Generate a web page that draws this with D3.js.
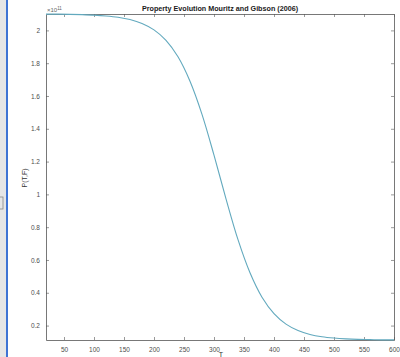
<!DOCTYPE html>
<html>
<head>
<meta charset="utf-8">
<script src="https://cdn.jsdelivr.net/npm/d3@7"></script>
<style>
  body { margin: 0; background: #fff; }
  .axis text { fill: #4d4d4d; font-family: 'Liberation Sans', Arial, sans-serif; font-size: 6.5px; }
  .axis line, .axis path { stroke: #555; }
</style>
</head>
<body>
<div id="chart"></div>
<script>
// T values and property (x 1e11)
const temps = [20, 40, 60, 80, 100, 120, 140, 160, 180, 200, 220, 240, 260, 280, 300, 320, 340, 360, 380, 400, 420, 440, 460, 480, 500, 520, 540, 560, 580, 600];
const props = [2.099, 2.099, 2.098, 2.096, 2.093, 2.088, 2.080, 2.066, 2.042, 2.003, 1.939, 1.839, 1.690, 1.488, 1.239, 0.973, 0.724, 0.522, 0.373, 0.273, 0.209, 0.170, 0.146, 0.132, 0.124, 0.119, 0.116, 0.1145, 0.113, 0.113];
const xTicks = [50, 100, 150, 200, 250, 300, 350, 400, 450, 500, 550, 600];
const yTicks = [0.2, 0.4, 0.6, 0.8, 1, 1.2, 1.4, 1.6, 1.8, 2];

const width = 400, height = 357;
const margin = { top: 14, right: 6, bottom: 17, left: 46 };
const w = width - margin.left - margin.right;
const h = height - margin.top - margin.bottom;

const svg = d3.select("#chart").append("svg")
  .attr("width", width)
  .attr("height", height);

// left window strip
svg.append("rect").attr("x", 0).attr("y", 0).attr("width", 7).attr("height", height).attr("fill", "#e6e6e6");
svg.append("rect").attr("x", 6).attr("y", 0).attr("width", 2).attr("height", height).attr("fill", "#3f74d4");
svg.append("rect").attr("x", -1).attr("y", 197).attr("width", 4).attr("height", 12)
  .attr("fill", "none").attr("stroke", "#888").attr("stroke-width", 0.8);

const g = svg.append("g").attr("transform", `translate(${margin.left},${margin.top})`);

const x = d3.scaleLinear().domain([20, 600]).range([0, w]);
const y = d3.scaleLinear().domain([0.112, 2.1]).range([h, 0]);

// inward ticks, MATLAB style, on all four sides
g.append("g").attr("class", "axis")
  .attr("transform", `translate(0,${h})`)
  .call(d3.axisBottom(x).tickValues(xTicks).tickSize(-3).tickPadding(7).tickSizeOuter(0));
g.append("g").attr("class", "axis")
  .call(d3.axisTop(x).tickValues(xTicks).tickSize(-3).tickFormat("").tickSizeOuter(0));
g.append("g").attr("class", "axis")
  .call(d3.axisLeft(y).tickValues(yTicks).tickSize(-3).tickPadding(6).tickSizeOuter(0).tickFormat(d3.format("~g")));
g.append("g").attr("class", "axis")
  .attr("transform", `translate(${w},0)`)
  .call(d3.axisRight(y).tickValues(yTicks).tickSize(-3).tickFormat("").tickSizeOuter(0));

g.selectAll(".axis path").attr("stroke-width", 0.8);
g.selectAll(".axis line").attr("stroke-width", 0.6);

const data = temps.map((t, i) => ({ t, p: props[i] }));
g.append("path")
  .datum(data)
  .attr("fill", "none")
  .attr("stroke", "#62a9be")
  .attr("stroke-width", 1.1)
  .attr("d", d3.line().curve(d3.curveCatmullRom).x(d => x(d.t)).y(d => y(d.p)));

// exponent label
const ex = svg.append("text")
  .attr("x", margin.left + 1).attr("y", margin.top - 2)
  .attr("font-family", "'Liberation Sans', Arial, sans-serif")
  .attr("font-size", 6).attr("fill", "#666");
ex.append("tspan").text("\u00d710");
ex.append("tspan").attr("font-size", 4.5).attr("dy", -2.5).text("11");

svg.append("text")
  .attr("x", 220).attr("y", 11)
  .attr("text-anchor", "middle")
  .attr("font-family", "'Liberation Sans', Arial, sans-serif")
  .attr("font-weight", "bold")
  .attr("font-size", 7.2)
  .attr("fill", "#1a1a1a")
  .text("Property Evolution Mouritz and Gibson (2006)");

svg.append("text")
  .attr("x", 221).attr("y", 357)
  .attr("text-anchor", "middle")
  .attr("font-family", "'Liberation Sans', Arial, sans-serif")
  .attr("font-size", 7).attr("fill", "#333")
  .text("T");

svg.append("text")
  .attr("transform", "translate(27,178) rotate(-90)")
  .attr("text-anchor", "middle")
  .attr("font-family", "'Liberation Sans', Arial, sans-serif")
  .attr("font-size", 7).attr("fill", "#333")
  .text("P(T,F)");
</script>
</body>
</html>
